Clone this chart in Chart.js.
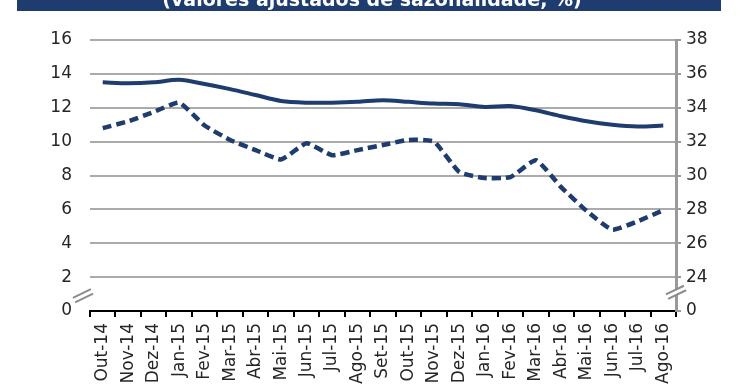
<!DOCTYPE html>
<html><head><meta charset="utf-8">
<script src="https://cdn.jsdelivr.net/npm/chart.js@4.4.1/dist/chart.umd.min.js"></script>
<style>html,body{margin:0;padding:0;background:#fff;} #wrap{width:740px;height:389px;}</style>
</head><body><div id="wrap"><canvas id="c" width="740" height="389"></canvas></div>
<script>
const categories = ["Out-14","Nov-14","Dez-14","Jan-15","Fev-15","Mar-15","Abr-15","Mai-15","Jun-15","Jul-15","Ago-15","Set-15","Out-15","Nov-15","Dez-15","Jan-16","Fev-16","Mar-16","Abr-16","Mai-16","Jun-16","Jul-16","Ago-16"];
const taxaTotal = [13.5,13.45,13.5,13.65,13.4,13.1,12.75,12.4,12.3,12.3,12.35,12.45,12.35,12.25,12.2,12.05,12.1,11.85,11.5,11.2,11.0,10.9,10.95];
const taxaJovens = [32.8,33.2,33.75,34.3,32.95,32.1,31.5,30.95,31.9,31.2,31.5,31.8,32.1,32.0,30.2,29.85,29.9,30.9,29.3,27.9,26.8,27.3,27.95];
const titleText = "(valores ajustados de sazonalidade, %)";
const rightBreakValue = 22;
const rightBreakLabel = "0";

const NAVY = "#1F3C6E";
const FONT = "'DejaVu Sans', Verdana, sans-serif";

const decor = {
  id: 'decor',
  beforeDraw(chart) {
    const ctx = chart.ctx;
    ctx.save();
    ctx.fillStyle = "#fff";
    ctx.fillRect(0,0,chart.width,chart.height);
    ctx.fillStyle = NAVY;
    ctx.fillRect(17,0,704,11);
    ctx.fillStyle = "#fff";
    ctx.font = "bold 19px " + FONT;
    ctx.textAlign = "center";
    ctx.textBaseline = "alphabetic";
    ctx.fillText(titleText, 372, 6);
    ctx.restore();
  },
  afterDraw(chart) {
    const ctx = chart.ctx;
    const yl = chart.scales.y, yr = chart.scales.y2, a = chart.chartArea;
    function brk(cx, cy) {
      ctx.save();
      ctx.translate(cx, cy);
      ctx.rotate(-0.45);
      ctx.fillStyle = "#fff";
      ctx.fillRect(-10, -2.5, 20, 5);
      ctx.strokeStyle = "#8C8C8C";
      ctx.lineWidth = 2;
      ctx.beginPath();
      ctx.moveTo(-10,-2.5); ctx.lineTo(10,-2.5);
      ctx.moveTo(-10,2.5); ctx.lineTo(10,2.5);
      ctx.stroke();
      ctx.restore();
    }
    brk(a.left - 7, yl.getPixelForValue(0.9));
    brk(a.right, yr.getPixelForValue(23.1));
  }
};

new Chart(document.getElementById('c'), {
  type: 'line',
  data: {
    labels: categories,
    datasets: [
      { data: taxaTotal, yAxisID: 'y', borderColor: NAVY, borderWidth: 4, tension: 0.3, pointRadius: 0, fill: false },
      { data: taxaJovens, yAxisID: 'y2', borderColor: NAVY, borderWidth: 4.5, borderDash: [9,5], tension: 0.15, pointRadius: 0, fill: false }
    ]
  },
  options: {
    responsive: false,
    animation: false,
    devicePixelRatio: 1,
    layout: { padding: { top: 40, left: 0, right: 0, bottom: 0 } },
    plugins: { legend: { display: false }, tooltip: { enabled: false } },
    scales: {
      x: {
        type: 'category',
        offset: true,
        grid: { drawOnChartArea: false, drawTicks: true, tickLength: 6, color: "#000", lineWidth: 2, offset: true },
        border: { display: true, color: "#000", width: 2 },
        ticks: { autoSkip: false, minRotation: 90, maxRotation: 90, padding: 6, color: "#262626", font: { family: FONT, size: 17 } },
        afterFit(s) { s.height = 78; }
      },
      y: {
        position: 'left',
        min: 0, max: 16,
        ticks: { stepSize: 2, padding: 18, color: "#262626", font: { family: FONT, size: 17 } },
        grid: { drawTicks: false, lineWidth: 2, color: (c) => c.tick && c.tick.value === 0 ? 'rgba(0,0,0,0)' : '#ABABAB' },
        border: { display: false },
        afterFit(s) { s.width = 90; }
      },
      y2: {
        position: 'right',
        min: 22, max: 38,
        ticks: { stepSize: 2, padding: 5, color: "#262626", font: { family: FONT, size: 17 },
          callback: (v) => v === rightBreakValue ? rightBreakLabel : String(v) },
        grid: { drawOnChartArea: false, drawTicks: true, tickLength: 5, color: "#9A9A9A", lineWidth: 2 },
        border: { display: true, color: "#9A9A9A", width: 3 },
        afterFit(s) { s.width = 64; }
      }
    }
  },
  plugins: [decor]
});
</script>
</body></html>
